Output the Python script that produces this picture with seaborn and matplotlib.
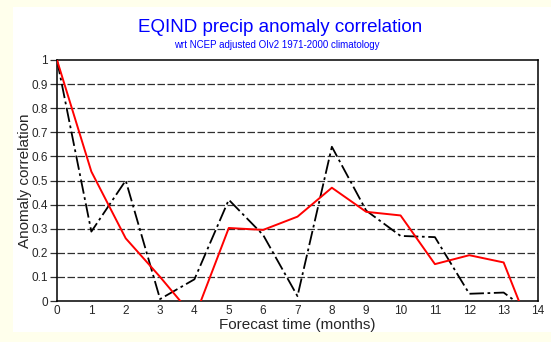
import matplotlib
matplotlib.use("Agg")
import matplotlib.pyplot as plt
from matplotlib.patches import Rectangle
import seaborn as sns
import pandas as pd

months = list(range(15))
red_series = [1.0, 0.537, 0.26, 0.10, -0.07, 0.303, 0.295, 0.35, 0.47, 0.37, 0.355, 0.153, 0.19, 0.16, -0.20]
black_series = [1.0, 0.288, 0.50, 0.008, 0.09, 0.42, 0.274, 0.02, 0.64, 0.375, 0.27, 0.265, 0.03, 0.035, -0.07]
yticks = [0, 0.1, 0.2, 0.3, 0.4, 0.5, 0.6, 0.7, 0.8, 0.9, 1]
ytick_labels = ["0", "0.1", "0.2", "0.3", "0.4", "0.5", "0.6", "0.7", "0.8", "0.9", "1"]
xticks = list(range(15))

title = "EQIND precip anomaly correlation"
subtitle = "wrt NCEP adjusted OIv2 1971-2000 climatology"
xlabel = "Forecast time (months)"
ylabel = "Anomaly correlation"

sns.set_style("white")
plt.rcParams["font.family"] = ["Liberation Sans", "DejaVu Sans"]

fig = plt.figure(figsize=(5.51, 3.42), dpi=100)
fig.patch.set_facecolor("#FFFFEC")
fig.patches.append(Rectangle((13 / 551, 1 - 332 / 342), 1 - 13 / 551, 325 / 342,
                             transform=fig.transFigure, facecolor="white",
                             edgecolor="none", zorder=-10))

ax = fig.add_axes([57 / 551, 1 - 301 / 342, (538 - 57) / 551, (301 - 60) / 342])
ax.set_zorder(5)
ax.set_facecolor("white")

df = pd.DataFrame({"month": months, "red": red_series, "black": black_series})

for y in yticks[1:-1]:
    ax.axhline(y, color="#303030", lw=0.9, ls=(0, (6, 2)), zorder=1)

sns.lineplot(data=df, x="month", y="black", color="black", lw=1.3,
             linestyle=(0, (8, 2, 1.5, 2)), ax=ax, zorder=3)
sns.lineplot(data=df, x="month", y="red", color="red", lw=1.4, ax=ax, zorder=4)

ax.set_xlim(0, 14)
ax.set_ylim(0, 1)
ax.set_xticks(xticks)
ax.set_xticklabels([str(m) for m in xticks], fontsize=8.5)
ax.set_yticks(yticks)
ax.set_yticklabels(ytick_labels, fontsize=8.5)
ax.tick_params(axis="x", length=0, pad=3)
ax.tick_params(axis="y", length=5, width=0.9, color="#303030", direction="out", pad=1.5, left=True)

for s in ax.spines.values():
    s.set_visible(True)
    s.set_color("black")
    s.set_linewidth(1.1)

ax.set_xlabel(xlabel, fontsize=11)
ax.set_ylabel(ylabel, fontsize=11)
ax.xaxis.set_label_coords(0.5, (301 - 325) / 241)
ax.xaxis.label.set_va("center")
ax.yaxis.set_label_coords((25 - 57) / 481, 0.5)
ax.yaxis.label.set_va("center")

fig.text(280 / 551, 1 - 28 / 342, title, color="#0000FF", fontsize=13.5,
         ha="center", va="center")
fig.text(277 / 551, 1 - 45 / 342, subtitle, color="#0000FF", fontsize=7,
         ha="center", va="center")

fig.savefig("out.png", dpi=100)
